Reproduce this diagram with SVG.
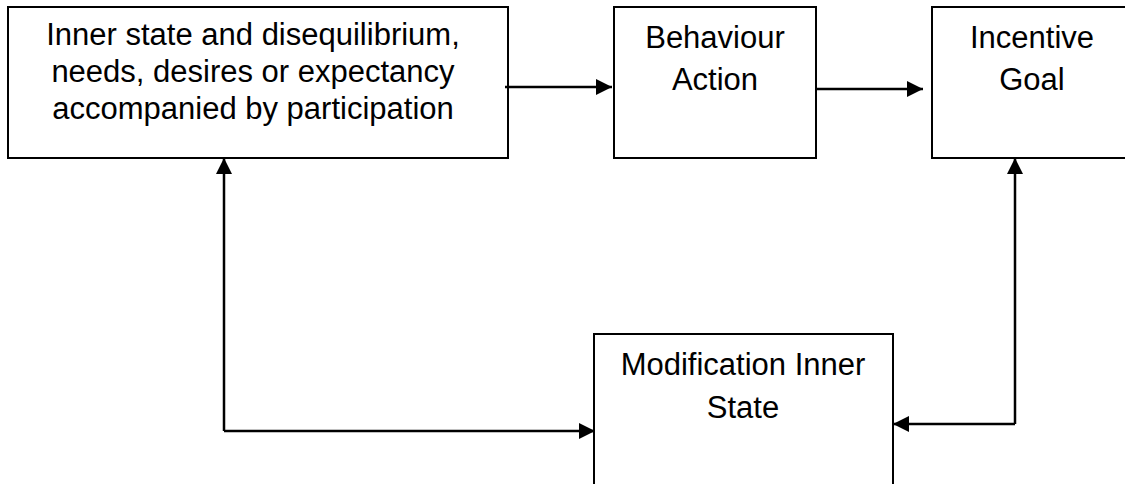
<svg xmlns="http://www.w3.org/2000/svg" width="1125" height="484" viewBox="0 0 1125 484">
  <defs>
    <style>
      .box { fill: #ffffff; stroke: #000000; stroke-width: 2; }
      .label { font-family: "Liberation Sans", Arial, sans-serif; font-size: 31px; fill: #000000; text-anchor: middle; }
      .link { fill: none; stroke: #000000; stroke-width: 2.5; }
    </style>
    <marker id="arrow" viewBox="0 0 16 16" refX="16" refY="8" markerWidth="16" markerHeight="16" markerUnits="userSpaceOnUse" orient="auto">
      <path d="M0,0 L16,8 L0,16 Z" fill="#000000"/>
    </marker>
  </defs>

  <rect width="1125" height="484" fill="#ffffff"/>

  <g id="inner-state">
    <rect class="box" x="8" y="7" width="500" height="151"/>
    <text class="label" x="253" y="45">Inner state and disequilibrium,</text>
    <text class="label" x="253" y="82">needs, desires or expectancy</text>
    <text class="label" x="253" y="119">accompanied by participation</text>
  </g>

  <g id="behaviour">
    <rect class="box" x="614" y="7" width="202" height="151"/>
    <text class="label" x="715" y="48">Behaviour</text>
    <text class="label" x="715" y="90">Action</text>
  </g>

  <g id="incentive">
    <rect class="box" x="932" y="7" width="200" height="151"/>
    <text class="label" x="1032" y="48">Incentive</text>
    <text class="label" x="1032" y="90">Goal</text>
  </g>

  <g id="modification">
    <rect class="box" x="594" y="334" width="299" height="160"/>
    <text class="label" x="743" y="375">Modification Inner</text>
    <text class="label" x="743" y="418">State</text>
  </g>

  <g id="connectors">
    <line class="link" x1="505" y1="87" x2="612" y2="87" marker-end="url(#arrow)"/>
    <line class="link" x1="815" y1="89" x2="923" y2="89" marker-end="url(#arrow)"/>
    <polyline class="link" points="224,431 224,158" marker-end="url(#arrow)"/>
    <polyline class="link" points="224,431 595,431" marker-end="url(#arrow)"/>
    <polyline class="link" points="1015,424 1015,158" marker-end="url(#arrow)"/>
    <polyline class="link" points="1015,424 893,424" marker-end="url(#arrow)"/>
  </g>
</svg>
